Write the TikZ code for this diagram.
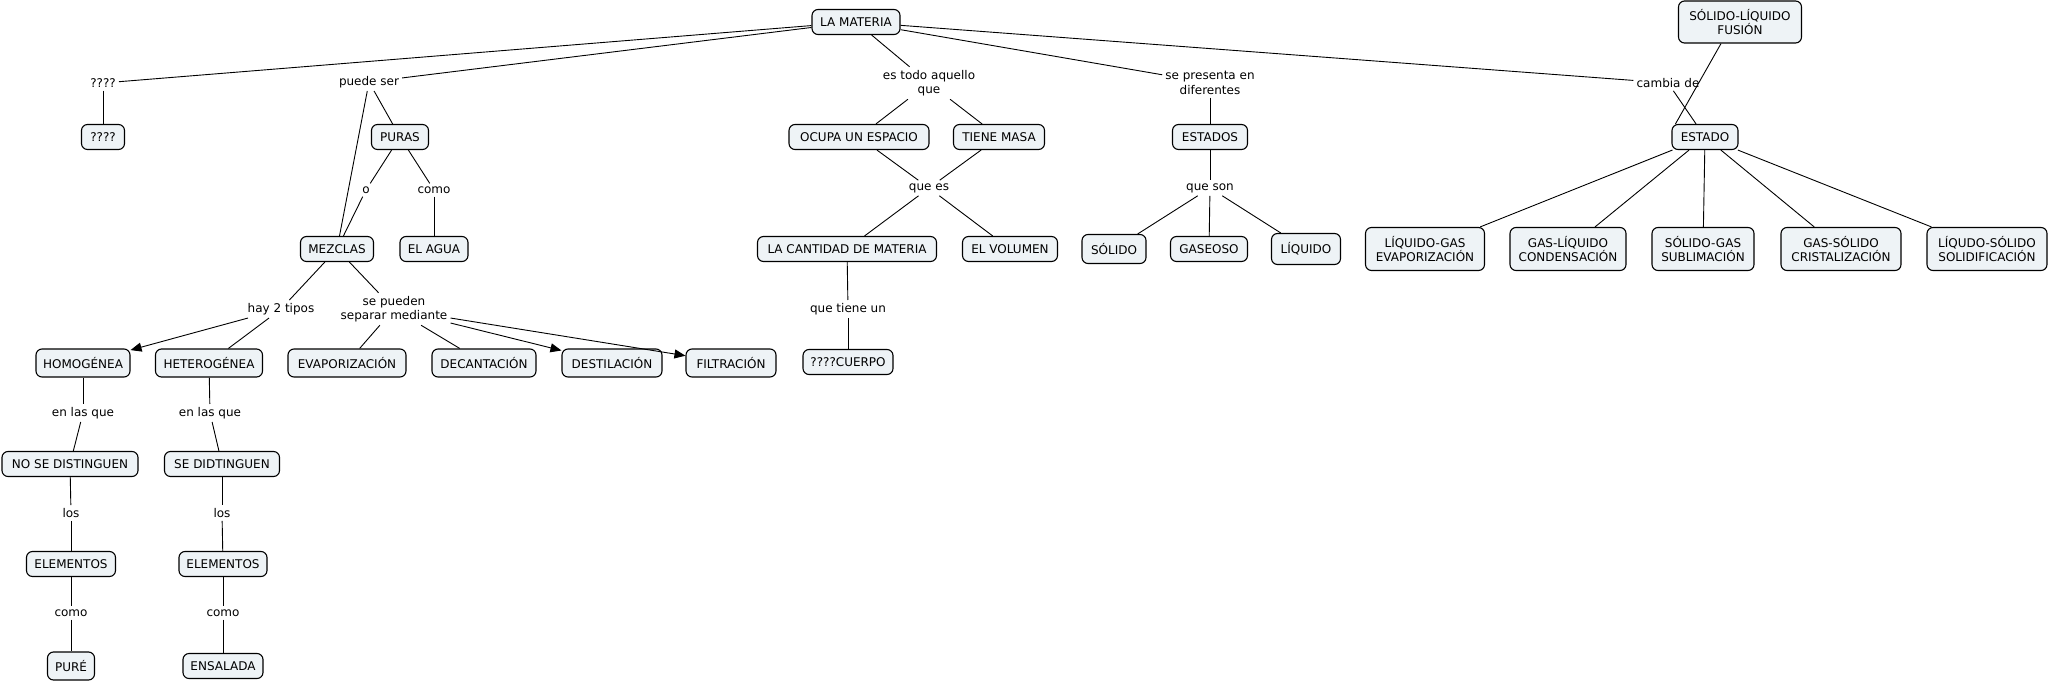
\documentclass[tikz,border=0pt]{standalone}
\usepackage{fontspec}
\setmainfont{DejaVu Sans}
\usetikzlibrary{arrows.meta}
\definecolor{boxfill}{RGB}{238,243,246}
\begin{document}
\begin{tikzpicture}[x=1pt,y=-1pt,
  cbox/.style={draw=black, line width=1.1pt, fill=boxfill, rounded corners=6pt, align=center,
    font=\fontsize{12}{14.5}\selectfont, inner sep=0pt, minimum height=25pt},
  lbl/.style={align=center, font=\fontsize{12}{14.5}\selectfont, inner sep=3pt},
  conn/.style={line width=0.9pt},
  arr/.style={conn, -{Triangle[length=11pt,width=9pt]}}
]
\useasboundingbox (0,0) rectangle (2049,682);

% concept boxes
\node[cbox, minimum width=88] (materia) at (856,22) {LA MATERIA};
\node[cbox, minimum width=43] (qq) at (103,137) {????};
\node[cbox, minimum width=57] (puras) at (400,137) {PURAS};
\node[cbox, minimum width=73] (mezclas) at (337,249) {MEZCLAS};
\node[cbox, minimum width=68] (agua) at (434,249) {EL AGUA};
\node[cbox, minimum width=94, minimum height=28] (homo) at (83,363) {HOMOGÉNEA};
\node[cbox, minimum width=107, minimum height=28] (hetero) at (209,363) {HETEROGÉNEA};
\node[cbox, minimum width=118, minimum height=28] (evap) at (347,363) {EVAPORIZACIÓN};
\node[cbox, minimum width=104, minimum height=28] (decan) at (484,363) {DECANTACIÓN};
\node[cbox, minimum width=100, minimum height=28] (desti) at (612,363) {DESTILACIÓN};
\node[cbox, minimum width=90, minimum height=28] (filtra) at (731,363) {FILTRACIÓN};
\node[cbox, minimum width=136] (nosedist) at (70,464) {NO SE DISTINGUEN};
\node[cbox, minimum width=89] (elemL) at (71,564) {ELEMENTOS};
\node[cbox, minimum width=47, minimum height=28] (pure) at (71,666) {PURÉ};
\node[cbox, minimum width=115] (sedist) at (222,464) {SE DIDTINGUEN};
\node[cbox, minimum width=88] (elemR) at (223,564) {ELEMENTOS};
\node[cbox, minimum width=80] (ensalada) at (223,666) {ENSALADA};
\node[cbox, minimum width=140] (ocupa) at (859,137) {OCUPA UN ESPACIO};
\node[cbox, minimum width=91] (masa) at (999,137) {TIENE MASA};
\node[cbox, minimum width=179] (cantidad) at (847,249) {LA CANTIDAD DE MATERIA};
\node[cbox, minimum width=95] (volumen) at (1010,249) {EL VOLUMEN};
\node[cbox, minimum width=90] (cuerpo) at (848,362) {????CUERPO};
\node[cbox, minimum width=75] (estados) at (1210,137) {ESTADOS};
\node[cbox, minimum width=64, minimum height=29] (solido) at (1114,249) {SÓLIDO};
\node[cbox, minimum width=77] (gaseoso) at (1209,249) {GASEOSO};
\node[cbox, minimum width=69, minimum height=31] (liquido) at (1306,249) {LÍQUIDO};
\node[cbox, minimum width=123, minimum height=42] (fusion) at (1740,22) {SÓLIDO-LÍQUIDO\\FUSIÓN};
\node[cbox, minimum width=66] (estado) at (1705,137) {ESTADO};
\node[cbox, minimum width=119, minimum height=43] (lg) at (1425,249) {LÍQUIDO-GAS\\EVAPORIZACIÓN};
\node[cbox, minimum width=116, minimum height=43] (gl) at (1568,249) {GAS-LÍQUIDO\\CONDENSACIÓN};
\node[cbox, minimum width=102, minimum height=43] (sg) at (1703,249) {SÓLIDO-GAS\\SUBLIMACIÓN};
\node[cbox, minimum width=120, minimum height=43] (gs) at (1841,249) {GAS-SÓLIDO\\CRISTALIZACIÓN};
\node[cbox, minimum width=120, minimum height=43] (ls) at (1987,249) {LÍQUDO-SÓLIDO\\SOLIDIFICACIÓN};

% linking phrases
\node[lbl] (lq) at (103,83) {????};
\node[lbl] (lpuede) at (369,82) {puede ser};
\node[lbl] (lo) at (366,190) {o};
\node[lbl] (lcomoP) at (434,190) {como};
\node[lbl] (lhay) at (281,309) {hay 2 tipos};
\node[lbl] (lsep) at (394,309) {se pueden\\separar mediante};
\node[lbl] (lenL) at (83,413) {en las que};
\node[lbl] (lenR) at (210,413) {en las que};
\node[lbl] (llosL) at (71,513) {los};
\node[lbl] (llosR) at (222,513) {los};
\node[lbl] (lcomoL) at (71,613) {como};
\node[lbl] (lcomoR) at (223,613) {como};
\node[lbl] (ltodo) at (929,83) {es todo aquello\\que};
\node[lbl] (lquees) at (929,188) {que es};
\node[lbl] (ltiene) at (848,309) {que tiene un};
\node[lbl] (lpresenta) at (1210,83) {se presenta en\\diferentes};
\node[lbl] (lqueson) at (1210,188) {que son};
\node[lbl] (lcambia) at (1668,83) {cambia de};

% connectors
\draw[conn] (materia) -- (lq);
\draw[conn] (lq) -- (qq);
\draw[conn] (materia) -- (lpuede);
\draw[conn] (lpuede) -- (mezclas);
\draw[conn] (lpuede) -- (puras);
\draw[conn] (puras) -- (lo);
\draw[conn] (lo) -- (mezclas);
\draw[conn] (puras) -- (lcomoP);
\draw[conn] (lcomoP) -- (agua);
\draw[conn] (mezclas) -- (lhay);
\draw[arr] (lhay) -- (homo);
\draw[conn] (lhay) -- (hetero);
\draw[conn] (mezclas) -- (lsep);
\draw[conn] (lsep) -- (evap);
\draw[conn] (lsep) -- (decan);
\draw[arr] (lsep) -- (desti);
\draw[arr] (lsep) -- (filtra);
\draw[conn] (homo) -- (lenL);
\draw[conn] (lenL) -- (nosedist);
\draw[conn] (nosedist) -- (llosL);
\draw[conn] (llosL) -- (elemL);
\draw[conn] (elemL) -- (lcomoL);
\draw[conn] (lcomoL) -- (pure);
\draw[conn] (hetero) -- (lenR);
\draw[conn] (lenR) -- (sedist);
\draw[conn] (sedist) -- (llosR);
\draw[conn] (llosR) -- (elemR);
\draw[conn] (elemR) -- (lcomoR);
\draw[conn] (lcomoR) -- (ensalada);
\draw[conn] (materia) -- (ltodo);
\draw[conn] (ltodo) -- (ocupa);
\draw[conn] (ltodo) -- (masa);
\draw[conn] (ocupa) -- (lquees);
\draw[conn] (masa) -- (lquees);
\draw[conn] (lquees) -- (cantidad);
\draw[conn] (lquees) -- (volumen);
\draw[conn] (cantidad) -- (ltiene);
\draw[conn] (ltiene) -- (cuerpo);
\draw[conn] (materia) -- (lpresenta);
\draw[conn] (lpresenta) -- (estados);
\draw[conn] (estados) -- (lqueson);
\draw[conn] (lqueson) -- (solido);
\draw[conn] (lqueson) -- (gaseoso);
\draw[conn] (lqueson) -- (liquido);
\draw[conn] (materia) -- (lcambia);
\draw[conn] (lcambia) -- (estado);
\draw[conn] ([xshift=-19pt]fusion.south) -- ([xshift=4pt]estado.north west);
\draw[conn] (estado) -- (lg);
\draw[conn] (estado) -- (gl);
\draw[conn] (estado) -- (sg);
\draw[conn] (estado) -- (gs);
\draw[conn] (estado) -- (ls);
\end{tikzpicture}
\end{document}
